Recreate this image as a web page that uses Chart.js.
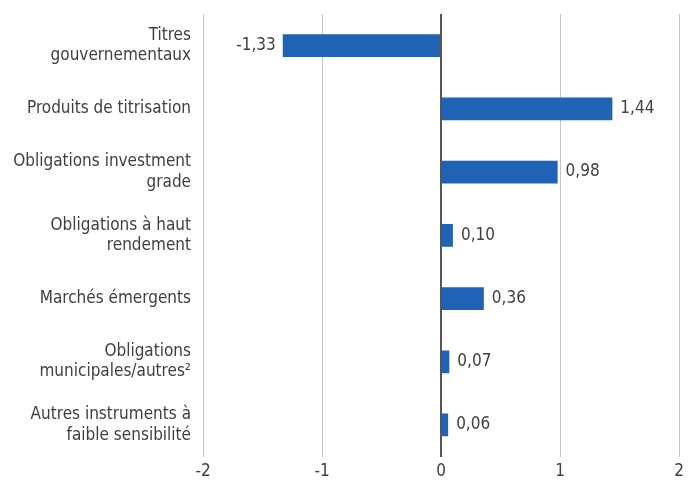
<!DOCTYPE html>
<html>
<head>
<meta charset="utf-8">
<script src="https://cdn.jsdelivr.net/npm/chart.js@4/dist/chart.umd.min.js"></script>
<style>
html,body{margin:0;padding:0;background:#fff;}
#wrap{width:697px;height:488px;}
</style>
</head>
<body>
<div id="wrap"><canvas id="sensChart"></canvas></div>
<script>
var categories = [
    ['Titres', 'gouvernementaux'],
    'Produits de titrisation',
    ['Obligations investment', 'grade'],
    ['Obligations à haut', 'rendement'],
    'Marchés émergents',
    ['Obligations', 'municipales/autres²'],
    ['Autres instruments à', 'faible sensibilité']
];
var values = [-1.33, 1.44, 0.98, 0.10, 0.36, 0.07, 0.06];
var xTicks = [-2, -1, 0, 1, 2];

var fontFamily = '"DejaVu Sans Condensed", "Open Sans", sans-serif';
var textColor = '#404040';

function fmt(v){ return v.toFixed(2).replace('.', ','); }

var valueLabels = {
    id: 'valueLabels',
    afterDatasetsDraw: function(chart){
        var ctx = chart.ctx;
        var meta = chart.getDatasetMeta(0);
        ctx.save();
        ctx.font = '17px ' + fontFamily;
        ctx.fillStyle = textColor;
        ctx.textBaseline = 'middle';
        meta.data.forEach(function(bar, i){
            var v = values[i];
            if(v < 0){
                ctx.textAlign = 'right';
                ctx.fillText(fmt(v), bar.x - 7, bar.y);
            } else {
                ctx.textAlign = 'left';
                ctx.fillText(fmt(v), bar.x + 8, bar.y);
            }
        });
        ctx.restore();
    }
};

new Chart(document.getElementById('sensChart').getContext('2d'), {
    type: 'bar',
    data: {
        labels: categories,
        datasets: [{
            data: values,
            backgroundColor: '#1f62b6',
            barPercentage: 0.36,
            categoryPercentage: 1
        }]
    },
    options: {
        indexAxis: 'y',
        responsive: true,
        maintainAspectRatio: false,
        animation: false,
        layout: {padding: {top: 14, right: 18, bottom: 1, left: 0}},
        plugins: {legend: {display: false}, tooltip: {enabled: false}},
        scales: {
            x: {
                min: -2, max: 2,
                afterBuildTicks: function(axis){
                    axis.ticks = xTicks.map(function(v){ return {value: v}; });
                },
                border: {display: false},
                grid: {
                    drawTicks: false,
                    color: function(c){ return c.tick && c.tick.value === 0 ? '#555555' : '#c4c4c4'; },
                    lineWidth: function(c){ return c.tick && c.tick.value === 0 ? 2 : 1; }
                },
                ticks: {
                    padding: 5,
                    color: textColor,
                    font: {family: fontFamily, size: 17},
                    callback: function(v){ return String(v); }
                }
            },
            y: {
                border: {display: false},
                grid: {display: false, drawTicks: false},
                afterFit: function(axis){
                    axis.width = 203;
                    axis.paddingTop = 0;
                    axis.paddingBottom = 0;
                },
                ticks: {
                    padding: 12,
                    color: textColor,
                    font: {family: fontFamily, size: 17, lineHeight: 1.2}
                }
            }
        }
    },
    plugins: [valueLabels]
});
</script>
</body>
</html>
